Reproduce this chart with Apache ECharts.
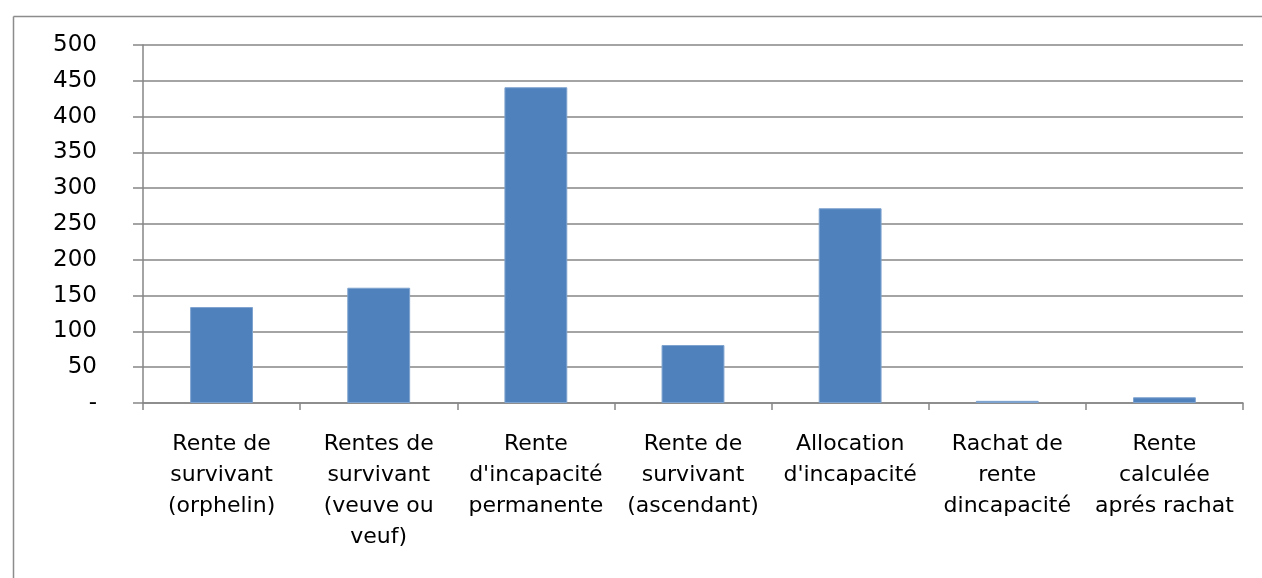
<!DOCTYPE html>
<html><head><meta charset="utf-8">
<script src="https://cdn.jsdelivr.net/npm/echarts@6/dist/echarts.min.js"></script>
<style>html,body{margin:0;padding:0;background:#fff;overflow:hidden}#c{width:1262px;height:578px}</style>
</head><body><div id="c"></div>
<script>
const categories = ["Rente de\nsurvivant\n(orphelin)", "Rentes de\nsurvivant\n(veuve ou\nveuf)", "Rente\nd'incapacité\npermanente", "Rente de\nsurvivant\n(ascendant)", "Allocation\nd'incapacité", "Rachat de\nrente\ndincapacité", "Rente\ncalculée\naprés rachat"];
const values = [134, 161, 441, 81, 272, 3, 8];
const chart = echarts.init(document.getElementById('c'));
const font = "'DejaVu Sans', sans-serif";
chart.setOption({
  animation: false,
  graphic: [
    {type:'line', shape:{x1:13.5, y1:16.5, x2:1400, y2:16.5}, style:{stroke:'#8c8c8c', lineWidth:1.5}},
    {type:'line', shape:{x1:13.5, y1:16.5, x2:13.5, y2:700}, style:{stroke:'#8c8c8c', lineWidth:1.5}}
  ],
  grid: {left:143, right:19, top:45, bottom:175},
  xAxis: {type:'category', data:categories,
    axisLine:{lineStyle:{color:'#868686', width:1.5}},
    axisTick:{show:true, length:7, lineStyle:{color:'#868686', width:1.5}},
    axisLabel:{interval:0, color:'#000', fontFamily:font, fontSize:22, lineHeight:31, margin:26}},
  yAxis: {type:'value', min:0, max:500, interval:50,
    axisLine:{show:true, lineStyle:{color:'#868686', width:1.5}},
    axisTick:{show:true, length:10, lineStyle:{color:'#868686', width:1.5}},
    splitLine:{lineStyle:{color:'#868686', width:1.5}},
    axisLabel:{color:'#000', fontFamily:font, fontSize:23, margin:46,
      formatter: v => v === 0 ? '-' : String(v)}},
  series: [{type:'bar', data:values, barWidth:'40%',
    itemStyle:{color:'#4f81bd', borderColor:'#7fa3cf', borderWidth:1}}]
});
</script></body></html>
